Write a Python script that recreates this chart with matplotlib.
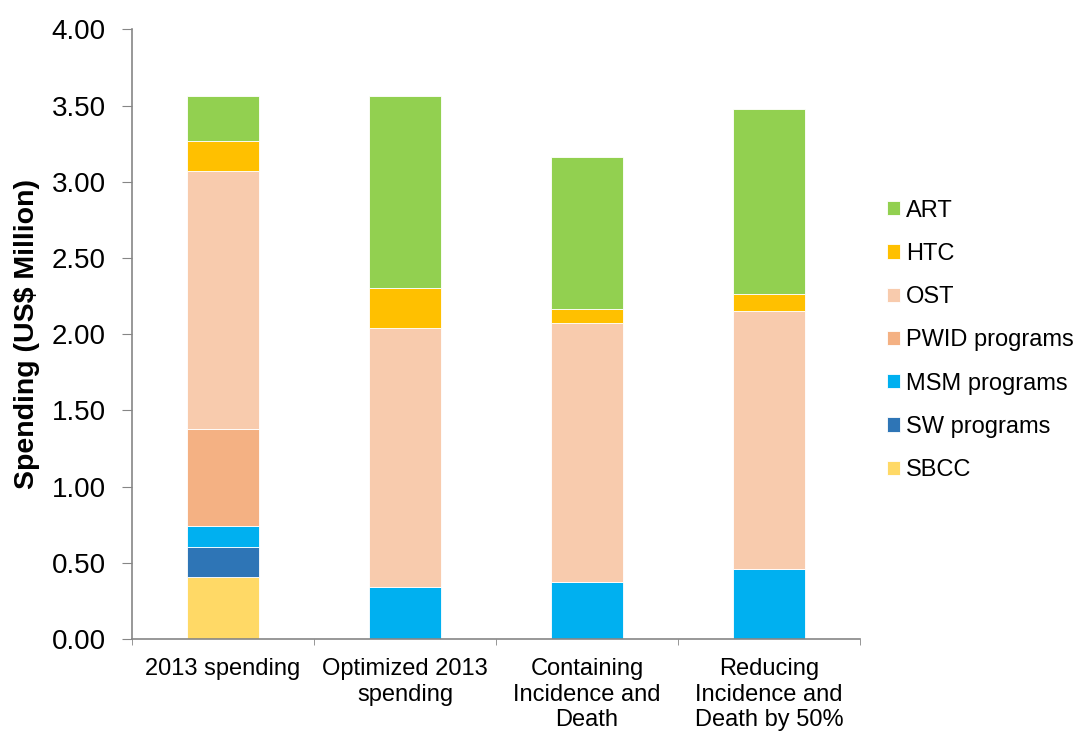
import numpy as np
import matplotlib.pyplot as plt

plt.rcParams['font.family'] = ['Liberation Sans', 'DejaVu Sans']

categories = ['2013 spending', 'Optimized 2013\nspending', 'Containing\nIncidence and\nDeath',
              'Reducing\nIncidence and\nDeath by 50%']
programs = ['SBCC', 'SW programs', 'MSM programs', 'PWID programs', 'OST', 'HTC', 'ART']
colors = ['#FFD966', '#2E75B6', '#00B0F0', '#F4B183', '#F8CBAD', '#FFC000', '#92D050']

sbcc = [0.405, 0.0, 0.0, 0.0]
sw = [0.20, 0.0, 0.0, 0.0]
msm = [0.135, 0.344, 0.377, 0.456]
pwid = [0.635, 0.0, 0.0, 0.0]
ost = [1.695, 1.698, 1.698, 1.699]
htc = [0.20, 0.264, 0.087, 0.110]
art = [0.295, 1.256, 0.997, 1.209]

values = [sbcc, sw, msm, pwid, ost, htc, art]

fig = plt.figure(figsize=(10.8, 7.36), dpi=100)
ax = fig.add_axes([0.1222, 0.1318, 0.674, 0.8284])

x = np.arange(len(categories))
bottom = np.zeros(len(categories))
handles = []
for name, vals, c in zip(programs, values, colors):
    vals = np.array(vals)
    b = ax.bar(x, vals, 0.397, bottom=bottom, color=c, edgecolor='white', linewidth=0.6, label=name)
    handles.append(b)
    bottom += vals

ax.set_xlim(-0.5, len(categories) - 0.5)
ax.set_ylim(0, 4.0)
ticks = np.arange(0, 4.01, 0.5)
ax.set_yticks(ticks)
ax.set_yticklabels(['{:.2f}'.format(v) for v in ticks], fontsize=20)
ax.set_ylabel('Spending (US$ Million)', fontsize=20.5, fontweight='bold', labelpad=8)

ax.set_xticks(x)
ax.set_xticklabels(categories, fontsize=17, linespacing=1.2)
ax.set_xticks(np.arange(-0.5, len(categories)), minor=True)
ax.tick_params(axis='x', which='major', length=0, pad=14)
ax.tick_params(axis='x', which='minor', length=4.5, color='#868686', direction='out')
ax.tick_params(axis='y', length=7, pad=12, color='#868686', direction='out')

for s in ['top', 'right']:
    ax.spines[s].set_visible(False)
for s in ['left', 'bottom']:
    ax.spines[s].set_color('#868686')
    ax.spines[s].set_linewidth(1.2)

leg = fig.legend(handles[::-1], programs[::-1], loc='center left', bbox_to_anchor=(0.8213, 0.5375),
                 bbox_transform=fig.transFigure, frameon=False, fontsize=17,
                 handlelength=0.55, handleheight=0.55, labelspacing=0.9,
                 handletextpad=0.25, borderpad=0, borderaxespad=0)

fig.savefig('out.png', dpi=100)
